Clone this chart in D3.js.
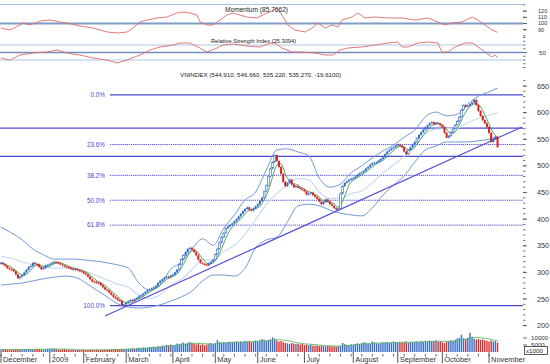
<!DOCTYPE html>
<html><head><meta charset="utf-8">
<script src="https://cdn.jsdelivr.net/npm/d3@7/dist/d3.min.js"></script>
<style>body{margin:0;background:#fff}svg{display:block}text{font-family:"Liberation Sans",Arial,sans-serif}</style>
</head><body><svg id="c" width="550" height="364"></svg>
<script>
// ---------- DATA ----------
const monthLabels = ["December","2009","February","March","April","May","June","July","August","September","October","November"];
const monthDays   = [23,16,20,22,20,20,22,23,21,21,22,5];

const closeDec = [318,315,312,308,306,305,302,296,289,292,295,300,305,310,312,318,316,315,310,306,308,313,314];
const closeJan = [316,318,320,319,317,315,313,311,310,308,307,305,306,304,303,301];
const closeFeb = [298,296,292,287,283,282,281,280,276,272,268,266,262,258,254,251,248,246,238,240];
const closeMar = [243,246,248,247,250,252,255,257,260,263,266,268,270,272,275,280,284,287,290,292,291,294];
const closeApr = [296,300,305,315,325,332,338,344,346,343,338,332,324,318,316,315,313,317,320,324];
const closeMay = [334,344,356,366,374,383,386,389,392,396,400,405,410,415,419,422,418,416,420,424];
const closeJun = [428,434,440,452,463,480,495,507,520,509,498,485,470,462,468,474,465,460,462,459,457,455];
const closeJul = [452,446,448,450,445,442,438,433,428,432,437,433,428,425,421,418,420,448,462,468,471,474,476];
const closeAug = [477,480,483,486,488,491,495,498,502,505,506,507,510,513,516,522,527,530,533,535,538];
const closeSep = [540,538,535,527,522,530,535,540,545,552,558,563,568,572,576,580,582,578,581,579,576];
const closeOct = [572,562,553,556,563,570,577,584,592,605,614,611,613,616,619,624,614,603,594,586,580,573];
const closeNov = [562,545,551,554.88,535.27];

const volDec = [1800,1600,2000,1500,1700,1400,1900,2100,1600,1800,1500,1700,2000,2200,1800,1600,1900,2400,2100,1700,1800,2000,2300];
const volJan = [2200,2600,2400,2000,1800,1600,1900,2100,1700,1500,1400,1600,1300,1500,1400,1500];
const volFeb = [1600,1500,1400,1700,1600,1500,1800,1400,1300,1600,1700,1500,1900,1800,2000,2200,1700,1900,2300,2100];
const volMar = [2000,2400,2200,2600,2300,2800,3000,2700,3300,3100,2900,3600,3400,3800,3500,4200,3900,4600,4400,5100,4800,5400];
const volApr = [4700,5200,6000,5500,6200,6800,5800,6400,7200,6600,5900,5400,6100,5000,5600,4800,5300,5900,6300,5700];
const volMay = [6400,8600,7200,6800,7000,6500,6900,7300,6800,7100,7400,6900,7600,7200,8000,7400,7800,7000,7500,8200];
const volJun = [7600,8400,9200,8800,7900,8600,9000,10400,9600,8200,7400,7900,7000,6600,6200,5800,6400,6000,5600,5900,5300,5700];
const volJul = [5000,5400,4800,5200,4600,4400,4800,4200,4500,4300,4000,4400,4200,3900,4100,3800,4200,4500,6400,5600,5200,4800,5500];
const volAug = [5200,5800,6200,5600,6400,7000,6600,6100,5800,7400,6800,6300,6000,6500,7000,6700,7200,6400,6900,7600,7100];
const volSep = [6800,7200,6500,7000,7400,6600,7100,6900,7300,7600,7000,7800,7400,8000,7600,8200,7500,7900,8300,7200,7600];
const volOct = [7000,6400,7200,7800,8400,8000,8800,9600,10000,12400,9800,9200,10200,13800,11000,9500,8800,9400,8600,9000,8400,8000];
const volNov = [7600,8200,7400,7800,6800];

// Bollinger bands, read every 5 trading days
const bandIdx   = [0,5,10,15,20,25,30,35,40,45,50,55,60,65,70,75,80,85,90,95,100,105,110,115,120,125,130,135,140,145,150,155,160,165,170,175,180,185,190,195,200,205,210,215,220,225,230,234];
const bandUpper = [385,374,361,344,333,325,325,325,323,321,318,314,308,280,267,276,306,319,344,363,351,383,408,436,451,492,530,532,526,519,477,460,466,487,500,515,528,539,554,567,592,601,594,597,616,631,639,646];
const bandMid   = [330,326,320,314,310,308,309,308,302,294,286,278,272,257,251,258,276,287,305,324,323,339,351,372,399,427,448,464,476,474,451,439,439,448,453,468,487,502,518,537,561,569,570,571,581,589,595,600];
const bandLower = [276,278,280,284,288,291,293,291,280,267,254,241,235,233,235,239,246,254,265,284,295,295,293,308,346,361,366,395,425,428,425,417,411,408,406,421,445,464,481,507,530,537,545,545,545,547,550,554];

const momIdx = [0,4.2,9,10.4,13.7,18.4,23.1,27.8,31.1,37.2,43.4,50,54.7,59.4,62.2,65.5,68.8,73.5,78.2,82.9,85.8,89.1,92.4,93.8,97.1,99.9,103.2,106.5,109.3,115.9,120.6,125.4,129.1,130,132.4,135.2,138.5,143.3,146.6,149.4,152.7,156,158.8,160.7,165.4,168.2,171.5,176.2,182.4,189,195.1,201.2,205.9,209.2,212.5,217.2,222,224.8,228.1,231.4,234];
const momVal = [92.7,89.5,97.6,100.8,97.6,104,105.6,102.4,100.8,96,92.7,86.3,84.7,86.3,92.7,102.4,105.6,108.9,110.5,116.9,118.5,116.9,113.7,102.4,97.6,97.6,105.6,113.7,116.9,110.5,108.9,116.9,121.8,125,113.7,97.6,89.5,86.3,92.7,100.8,92.7,97.6,94.4,105.6,110.5,116.9,108.9,110.5,108.9,108.9,105.6,108.9,102.4,97.6,100.8,102.4,110.5,105.6,97.6,89.5,85.77];

const rsiIdx = [0,4.2,9,15.1,21.7,26.4,31.1,37.2,43.4,50,54.7,59.4,65.5,70.2,74.9,81.1,84.4,89.1,93.8,97.1,101.8,104.6,109.3,115.9,122.1,126.8,129.1,132.4,137.1,141.8,148,152.7,156.5,159.8,163.5,170.1,176.2,182.4,187.1,189,191.8,196.5,201.2,205.9,207.8,210.7,214,218.7,222.4,224.8,228.1,231.4,233,234];
const rsiVal = [35.3,30,43.3,48.7,51.3,56.7,48.7,43.3,35.3,30,22,30,43.3,56.7,64.7,70,75.3,75.3,62,51.3,62,70,72.7,67.3,64.7,75.3,75.3,62,51.3,51.3,48.7,43.3,43.3,56.7,62,64.7,70,75.3,78,64.7,64.7,75.3,78,75.3,51.3,51.3,64.7,75.3,75.3,64.7,51.3,38,43.3,36.3];

const fibLevels = [0, 23.6, 38.2, 50, 61.8, 100];
const fibLabels = ["0.0%","23.6%","38.2%","50.0%","61.8%","100.0%"];
const fibHigh = 633.5, fibLow = 237.4;
const hLevels = [571, 518];
const trendIdx = [49, 245.5];
const trendVal = [218, 573];

const priceTicks = [200,250,300,350,400,450,500,550,600,650];
const momTicks = [90,100,110,120];
const rsiTicks = [50];
const volTicks = [5000,10000];

// ---------- BUILD ----------
const closes = [].concat(closeDec,closeJan,closeFeb,closeMar,closeApr,closeMay,closeJun,closeJul,closeAug,closeSep,closeOct,closeNov);
const vols = [].concat(volDec,volJan,volFeb,volMar,volApr,volMay,volJun,volJul,volAug,volSep,volOct,volNov);
const N = closes.length;
const monthStart = []; {let s=0; monthDays.forEach(d=>{monthStart.push(s); s+=d;});}

const svg = d3.select("#c");
const x = d3.scaleLinear().domain([0,246]).range([1,523]);
const y = d3.scaleLinear().domain([250,650]).range([299,86]);
const yMom = d3.scaleLinear().domain([90,120]).range([29.7,11.1]);
const yRsi = d3.scaleLinear().domain([30,70]).range([60,45]);
const yVol = d3.scaleLinear().domain([0,10000]).range([352,338]);

const X0 = 0, X1 = 523;
const fibCol = "#4a4ad2";

function hline(yy, col, w, x0=X0, dash=null){
  const l = svg.append("line").attr("x1",x0).attr("x2",X1).attr("y1",yy).attr("y2",yy)
    .attr("stroke",col).attr("stroke-width",w);
  if(dash) l.attr("stroke-dasharray",dash);
  return l;
}
// top panels
hline(4.5,"#a9c6e6",1);
hline(yMom(100),"#7f9cc6",2);
hline(yRsi(70),"#a9c6e6",1);
hline(yRsi(50),"#6f8fc4",1.6);
hline(yRsi(30),"#a9c6e6",1);

const momLine = d3.line().x((d,i)=>x(momIdx[i])).y(d=>yMom(d));
svg.append("path").attr("d",momLine(momVal)).attr("fill","none").attr("stroke","#e06a6a").attr("stroke-width",0.9);
const rsiLine = d3.line().x((d,i)=>x(rsiIdx[i])).y(d=>yRsi(d));
svg.append("path").attr("d",rsiLine(rsiVal)).attr("fill","none").attr("stroke","#e06a6a").attr("stroke-width",0.9);

svg.append("text").attr("x",225).attr("y",12).attr("font-size",6.6).attr("fill","#222").text("Momentum (85.7662)");
svg.append("text").attr("x",211).attr("y",43).attr("font-size",5.7).attr("fill","#222").text("Relative Strength Index (35.3094)");
svg.append("text").attr("x",180).attr("y",77).attr("font-size",6.2).attr("fill","#222").text("VNINDEX (544.910, 546.660, 535.220, 535.270, -19.6100)");

// right axes
function tickLabels(ticks, sc, fs, xx){
  ticks.forEach(t=>{
    svg.append("text").attr("x",xx).attr("y",sc(t)+fs*0.35).attr("font-size",fs).attr("fill","#333").text(t);
    svg.append("line").attr("x1",523).attr("x2",527).attr("y1",sc(t)).attr("y2",sc(t)).attr("stroke","#444").attr("stroke-width",0.8);
  });
}
tickLabels(priceTicks, y, 7.2, 537);
tickLabels(momTicks, yMom, 5.6, 538);
tickLabels(rsiTicks, yRsi, 6.2, 539);
tickLabels(volTicks, yVol, 6.2, 531);
d3.range(200,661,10).forEach(v=>{
  svg.append("line").attr("x1",523).attr("x2",525.5).attr("y1",y(v)).attr("y2",y(v)).attr("stroke","#555").attr("stroke-width",0.8);
});
d3.range(80,131,10).forEach(v=>{
  svg.append("line").attr("x1",523).attr("x2",525.5).attr("y1",yMom(v)).attr("y2",yMom(v)).attr("stroke","#555").attr("stroke-width",0.8);
});
d3.range(10,91,10).forEach(v=>{
  svg.append("line").attr("x1",523).attr("x2",525.5).attr("y1",yRsi(v)).attr("y2",yRsi(v)).attr("stroke","#555").attr("stroke-width",0.8);
});
svg.append("rect").attr("x",524.5).attr("y",346.5).attr("width",23).attr("height",8).attr("fill","#fff").attr("stroke","#333").attr("stroke-width",0.8);
svg.append("text").attr("x",526).attr("y",353).attr("font-size",6.2).attr("fill","#222").text("x1000");

// horizontal support/resistance
hLevels.forEach(v=>hline(y(v),fibCol,1.2));

// fibonacci
fibLevels.forEach((p,k)=>{
  const v = fibHigh - (fibHigh-fibLow)*p/100;
  const solid = (p===0||p===100);
  hline(y(v), fibCol, solid?1.2:1, 110, solid?null:"1.2,0.9");
  svg.append("text").attr("x",105).attr("y",y(v)+2.3).attr("text-anchor","end")
    .attr("font-size",6.4).attr("fill","#4a4ad2").text(fibLabels[k]);
});

// bollinger bands
function bandPath(arr, col, w){
  const ln = d3.line().x((d,i)=>x(bandIdx[i])).y(d=>y(d)).curve(d3.curveMonotoneX);
  svg.append("path").attr("d",ln(arr)).attr("fill","none").attr("stroke",col).attr("stroke-width",w);
}
bandPath(bandMid,"#c9dcf2",1.2);
bandPath(bandUpper,"#6e9ad8",1);
bandPath(bandLower,"#6e9ad8",1);

// trend line
svg.append("line").attr("x1",x(trendIdx[0])).attr("y1",y(trendVal[0])).attr("x2",x(trendIdx[1])).attr("y2",y(trendVal[1]))
  .attr("stroke","#5a50d6").attr("stroke-width",1.2);

// 5-day moving average of closes
const ma5 = closes.map((c,i)=>d3.mean(closes.slice(Math.max(0,i-4),i+1)));
svg.append("path").attr("d",d3.line().x((d,i)=>x(i)).y(d=>y(d))(ma5)).attr("fill","none").attr("stroke","#3f9f3f").attr("stroke-width",0.9);

// candles
closes.forEach((c,i)=>{
  const o = i>0?closes[i-1]:c;
  const up = c>=o;
  const y1 = y(Math.max(o,c)), y2 = y(Math.min(o,c));
  const h = Math.max(1, y2-y1);
  const col = up?"#2a63c4":"#c81c1c";
  svg.append("line").attr("x1",x(i)).attr("x2",x(i)).attr("y1",y1-1).attr("y2",y1+h+1)
    .attr("stroke",col).attr("stroke-width",0.6);
  if(up && h>3.5){
    svg.append("rect").attr("x",x(i)-0.9).attr("y",y1+0.3).attr("width",1.8).attr("height",h-0.6)
      .attr("fill","#fff").attr("stroke",col).attr("stroke-width",0.6);
  } else {
    svg.append("rect").attr("x",x(i)-1).attr("y",y1).attr("width",2).attr("height",h)
      .attr("fill",up?"#2f6ad0":"#d42020");
  }
});

// volume
vols.forEach((v,i)=>{
  const up = i===0 || closes[i]>=closes[i-1];
  svg.append("rect").attr("x",x(i)-0.7).attr("y",yVol(v)).attr("width",1.4).attr("height",yVol(0)-yVol(v))
    .attr("fill",up?"#3a6fc8":"#d43030");
});
const vma = vols.map((v,i)=>d3.mean(vols.slice(Math.max(0,i-9),i+1)));
svg.append("path").attr("d",d3.line().x((d,i)=>x(i)).y(d=>yVol(d)).curve(d3.curveMonotoneX)(vma)).attr("fill","none").attr("stroke","#5cb85c").attr("stroke-width",0.9);

// date axis
for(let i=0;i<N;i+=5){
  svg.append("line").attr("x1",x(i)).attr("x2",x(i)).attr("y1",354).attr("y2",356.5).attr("stroke","#444").attr("stroke-width",0.8);
}
monthStart.forEach((s,k)=>{
  svg.append("line").attr("x1",x(s)).attr("x2",x(s)).attr("y1",352).attr("y2",363).attr("stroke","#444").attr("stroke-width",0.9);
  svg.append("text").attr("x",x(s)+2).attr("y",362).attr("font-size",7.4).attr("fill","#333").text(monthLabels[k]);
});
</script></body></html>
